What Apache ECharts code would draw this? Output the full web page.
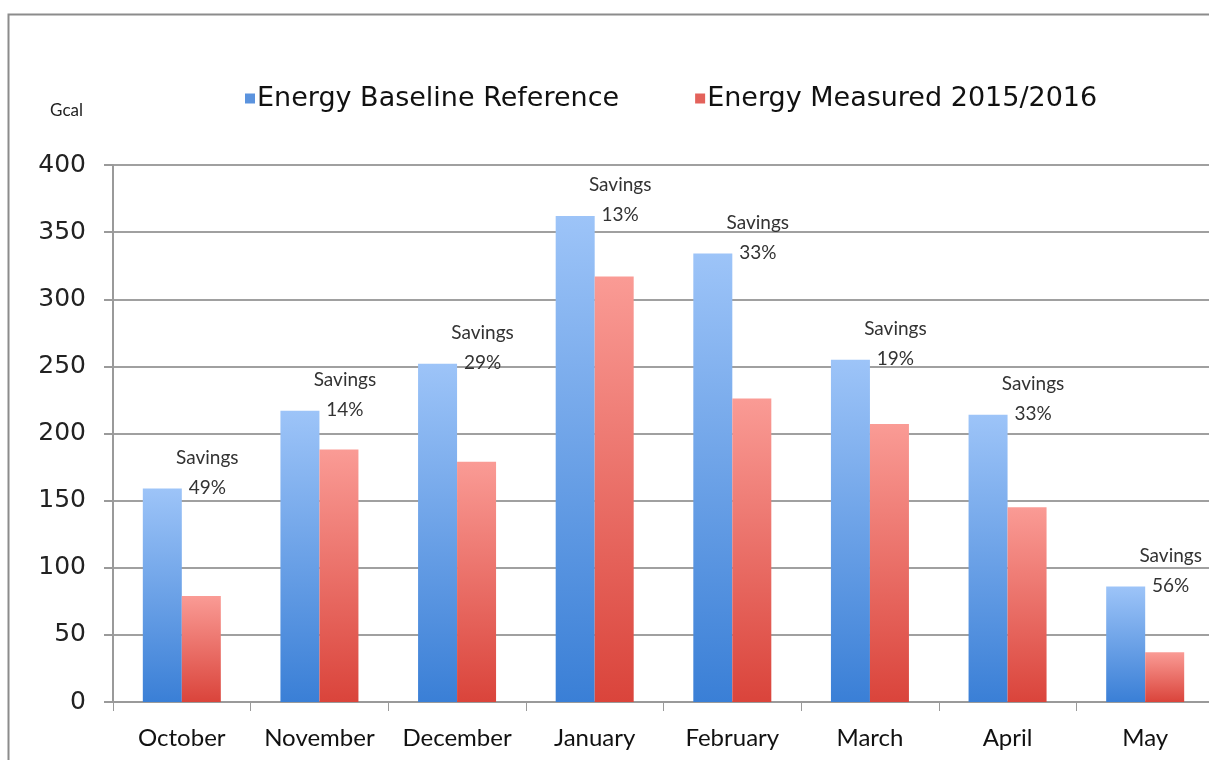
<!DOCTYPE html>
<html>
<head>
<meta charset="utf-8">
<script src="https://cdn.jsdelivr.net/npm/echarts@6/dist/echarts.min.js"></script>
<style>
html,body{margin:0;padding:0;background:#fff;overflow:hidden;width:1209px;height:760px;}
#chart{width:1214px;height:760px;}
</style>
</head>
<body>
<div id="chart"></div>
<script>
const categories = ['October','November','December','January','February','March','April','May'];
const baseline = [159, 217, 252, 362, 334, 255, 214, 86];
const measured = [79, 188, 179, 317, 226, 207, 145, 37];
const savings = ['49%','14%','29%','13%','33%','19%','33%','56%'];
const yTicks = [0, 50, 100, 150, 200, 250, 300, 350, 400];
const seriesNames = ['Energy Baseline Reference', 'Energy Measured 2015/2016'];

const chart = echarts.init(document.getElementById('chart'));

function grad(top, bottom){
  return new echarts.graphic.LinearGradient(0,0,0,1,[{offset:0,color:top},{offset:1,color:bottom}]);
}

const option = {
  backgroundColor: '#fff',
  animation: false,
  graphic: [{
    type: 'rect', left: 6, top: 12, z: 100,
    shape: {x:0, y:0, width: 1300, height: 800},
    style: {fill: 'none', stroke: '#8c8c8c', lineWidth: 2}
  }],
  legend: {
    top: 80, left: 240,
    itemWidth: 10, itemHeight: 10, itemGap: 76,
    icon: 'rect',
    textStyle: {fontFamily: 'DejaVu Sans', fontSize: 27, color: '#111', padding: [0,0,0,-3]},
    data: [
      {name: seriesNames[0], itemStyle: {color: '#5b93de'}},
      {name: seriesNames[1], itemStyle: {color: '#e3625b'}}
    ]
  },
  grid: {left: 113, top: 165, right: 0, bottom: 58, containLabel: false},
  xAxis: {
    type: 'category',
    data: categories,
    axisLine: {lineStyle: {color: '#9a9a9a', width: 2}},
    axisTick: {show: true, interval: 0, length: 9, lineStyle: {color: '#9a9a9a', width: 1}},
    axisLabel: {interval: 0, fontFamily: 'Lato', fontSize: 24, color: '#111', margin: 24}
  },
  yAxis: {
    type: 'value', min: yTicks[0], max: yTicks[yTicks.length-1], interval: 50,
    name: 'Gcal', nameLocation: 'end', nameGap: 46,
    nameTextStyle: {fontFamily: 'Lato', fontSize: 17, color: '#222', align: 'right', padding: [0, 30, 0, 0]},
    axisLine: {show: true, lineStyle: {color: '#9a9a9a', width: 2}},
    axisTick: {show: true, length: 9, inside: false, lineStyle: {color: '#9a9a9a', width: 2}},
    splitLine: {lineStyle: {color: '#a0a0a0', width: 2}},
    axisLabel: {fontFamily: 'DejaVu Sans', fontSize: 25, color: '#222', margin: 27}
  },
  series: [
    {
      name: seriesNames[0], type: 'bar', data: baseline,
      barWidth: 39, barGap: '0%',
      itemStyle: {color: grad('#9dc4f8', '#3a7fd6')},
      label: {
        show: true, position: 'top', distance: 0, offset: [45, 14],
        fontFamily: 'Lato', fontSize: 19, color: '#333', lineHeight: 30, align: 'center',
        formatter: p => 'Savings\n' + savings[p.dataIndex]
      }
    },
    {
      name: seriesNames[1], type: 'bar', data: measured,
      barWidth: 39,
      itemStyle: {color: grad('#fa9b95', '#da443b')}
    }
  ]
};
chart.setOption(option);
</script>
</body>
</html>
